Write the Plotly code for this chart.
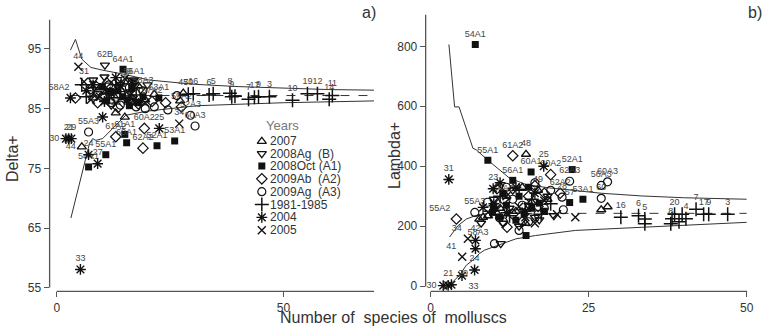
import plotly.graph_objects as go

W, H = 770, 333
FONT = "Liberation Sans Narrow, Arial Narrow, Liberation Sans, Arial, sans-serif"

# ---------------- Delta+ panel (a) ----------------
dA_2007_x = [5.5, 13.0, 15.0, 27.9, 27.2, 9.5, 12.5, 16.5, 18.0, 11.0, 14.0, 19.5, 8.0, 15.5, 21.5]
dA_2007_y = [78.6, 84.3, 83.6, 87.6, 86.3, 88.5, 87.2, 86.0, 88.8, 89.6, 88.2, 86.5, 86.8, 89.5, 87.4]
dA_2007_l = ["44", "26", "", "47", "", "", "", "", "", "", "", "", "", "49", ""]

dA_B_x = [10.6, 8.0, 11.5, 14.0, 16.0, 18.5, 13.0, 9.0, 20.0, 10.5, 17.0, 12.0]
dA_B_y = [92.3, 89.8, 88.0, 89.0, 87.8, 88.2, 86.5, 87.5, 89.0, 90.3, 89.8, 85.6]
dA_B_l = ["62B", "", "", "", "", "", "", "", "", "", "", ""]

dA_A1_x = [14.6, 15.0, 15.4, 22.1, 26.0, 10.8, 7.0, 13.5, 15.5, 17.0, 19.0, 12.0, 22.5, 16.0, 14.5, 11.0, 18.0, 16.5, 10.0]
dA_A1_y = [91.6, 80.7, 79.3, 78.8, 79.6, 77.3, 75.25, 88.0, 86.5, 89.5, 87.0, 87.8, 86.8, 85.5, 87.0, 86.3, 86.0, 88.4, 88.7]
dA_A1_l = ["64A1", "61A1", "60A1", "52A1", "53A1", "55A1", "54A1", "", "", "56A1", "", "", "63A1", "", "", "", "", "", ""]

dA_A2_x = [4.1, 13.0, 19.3, 19.0, 27.5, 9.0, 12.0, 15.5, 18.0, 21.0, 24.0, 13.5, 10.5, 17.0, 7.5]
dA_A2_y = [86.8, 80.3, 81.7, 78.4, 85.3, 86.0, 88.5, 87.0, 85.8, 86.2, 86.0, 85.2, 87.2, 89.0, 88.3]
dA_A2_l = ["58A2", "61A2", "60A2", "62A2", "59A2", "", "", "", "", "57A2", "", "", "", "", ""]

dA_A3_x = [7.0, 29.5, 30.5, 24.5, 19.5, 14.0, 17.5, 10.0, 12.0, 21.5, 16.0, 26.5, 11.5, 8.5, 15.0, 19.0]
dA_A3_y = [81.1, 83.9, 82.1, 84.8, 85.0, 85.6, 85.3, 87.0, 86.0, 85.3, 88.5, 87.2, 89.0, 88.8, 89.8, 88.0]
dA_A3_l = ["55A3", "52A3", "60A3", "", "", "", "", "", "", "", "", "", "", "", "", "58A3"]

dA_8185_x = [30.1, 29.0, 33.6, 34.5, 38.2, 38.6, 39.3, 42.3, 43.6, 44.5, 46.9, 52.0, 55.3, 57.5, 60.1, 60.8, 6.5, 8.0, 11.0, 13.0, 15.0, 5.5, 17.5]
dA_8185_y = [87.5, 87.4, 87.3, 87.5, 87.6, 87.0, 87.1, 86.6, 86.9, 87.0, 87.0, 86.4, 87.5, 87.5, 86.6, 87.2, 87.0, 88.5, 87.5, 89.0, 86.8, 89.0, 87.3]
dA_8185_l = ["16", "50", "6", "5", "8", "9", "", "7", "17", "9", "3", "10", "19", "12", "14", "11", "", "", "", "", "", "", ""]

dA_2004_x = [3.0, 2.0, 2.6, 3.2, 7.0, 9.0, 10.1, 22.6, 5.2, 8.0, 12.0, 14.0, 17.0, 6.5, 10.5, 13.0]
dA_2004_y = [86.8, 80.0, 80.0, 80.0, 77.3, 75.8, 83.6, 81.7, 58.1, 89.0, 87.5, 88.8, 86.5, 88.0, 86.2, 90.2]
dA_2004_l = ["", "30", "21", "29", "24", "27", "", "25", "33", "", "", "", "", "", "", ""]

dA_2005_x = [4.75, 27.0, 6.0, 11.0, 9.5, 13.5, 16.5, 19.5, 7.5, 15.0]
dA_2005_y = [92.0, 82.5, 89.5, 88.0, 87.0, 89.2, 87.5, 86.0, 86.5, 90.0]
dA_2005_l = ["44", "34", "31", "", "", "", "", "", "", ""]

dA_up_x = [3.0, 4.1, 5.5, 7.5, 10.4, 15.2, 20.3, 30, 40, 50, 60, 70]
dA_up_y = [94.8, 96.6, 93.3, 91.9, 91.4, 90.7, 89.8, 89.1, 88.7, 88.4, 88.2, 88.1]
dA_lo_x = [3.1, 6.1, 7.2, 7.9, 8.6, 10.1, 11.5, 14.1, 15.2, 20, 31, 50, 70]
dA_lo_y = [66.7, 75.5, 79.2, 80.0, 79.7, 80.0, 81.1, 83.1, 83.9, 84.6, 85.5, 86.0, 86.3]
dA_mean_x = [3.0, 70]
dA_mean_y = [87.2, 87.2]

# ---------------- Lambda+ panel (b) ----------------
lB_2007_x = [15.1, 27.0, 28.0, 12.0, 14.5, 16.0, 13.5, 17.0, 7.7, 9.1, 8.3, 11.0, 15.0, 18.5]
lB_2007_y = [440, 255, 265, 300, 330, 280, 250, 320, 224, 235, 230, 260, 210, 290]
lB_2007_l = ["48", "", "", "", "", "", "", "49", "", "", "", "", "", ""]

lB_B_x = [11.1, 8.0, 17.2, 14.0, 12.5, 16.5, 10.0, 18.5, 19.5, 13.0, 15.5, 11.5]
lB_B_y = [142, 210, 221, 200, 260, 230, 290, 300, 235, 320, 270, 210]
lB_B_l = ["", "", "", "", "", "", "", "", "", "", "", ""]

lB_A1_x = [7.07, 9.06, 15.9, 22.4, 15.1, 22.0, 24.1, 13.0, 9.8, 10.0, 10.9, 14.8, 17.2, 12.0, 16.0, 14.0, 11.5, 15.5, 18.0, 13.5]
lB_A1_y = [806, 420, 381, 389, 169, 279, 290, 353, 246, 268, 230, 240, 277, 270, 260, 300, 310, 330, 250, 220]
lB_A1_l = ["54A1", "55A1", "60A1", "52A1", "", "57", "53A1", "56A1", "", "", "", "", "", "", "", "", "", "", "", ""]

lB_A2_x = [13.0, 19.0, 4.08, 12.1, 17.0, 14.5, 18.0, 11.5, 20.5, 10.5, 15.5, 13.0, 16.5]
lB_A2_y = [435, 372, 224, 197, 266, 215, 310, 290, 310, 325, 300, 240, 335]
lB_A2_l = ["61A2", "60A2", "55A2", "", "", "", "", "59A2", "62A2", "", "", "", ""]

lB_A3_x = [22.0, 27.0, 28.0, 27.0, 21.0, 10.1, 7.0, 14.0, 10.9, 20.8, 13.0, 11.5, 15.5, 18.0, 16.5, 12.0, 14.5, 19.0, 17.0, 9.0]
lB_A3_y = [350, 336, 348, 293, 255, 142, 246, 186, 228, 297, 290, 215, 215, 260, 345, 330, 270, 320, 240, 280]
lB_A3_l = ["62A3", "56A3", "60A3", "60", "", "58A3", "55A3", "", "", "28", "", "", "", "", "", "", "", "", "", ""]

lB_8185_x = [30.1, 32.9, 33.9, 33.9, 38.0, 38.2, 38.6, 39.3, 39.8, 40.4, 42.0, 43.2, 44.0, 47.0, 9.5, 12.5, 15.0, 17.5, 11.0, 14.0, 16.0, 19.0]
lB_8185_y = [230, 235, 224, 208, 208, 225, 240, 215, 240, 225, 257, 240, 240, 240, 250, 235, 255, 240, 300, 320, 290, 275]
lB_8185_l = ["16", "6", "5", "", "8", "", "20", "", "", "4", "7", "17", "9", "3", "", "", "", "", "", "", "", ""]

lB_2004_x = [2.88, 17.9, 7.1, 7.1, 6.96, 4.97, 2.0, 2.78, 3.3, 9.9, 8.3, 10.0, 13.5, 15.0, 12.0, 16.5, 11.0]
lB_2004_y = [356, 400, 153, 125, 54, 35, 2, 3, 5, 325, 263, 275, 330, 250, 245, 310, 345]
lB_2004_l = ["31", "25", "42", "", "24", "33", "30", "21", "29", "23", "", "", "", "", "", "", ""]

lB_2005_x = [5.9, 5.0, 20.0, 22.9, 16.5, 12.0, 14.0, 18.0, 10.5, 15.0]
lB_2005_y = [158, 98, 240, 230, 210, 300, 265, 285, 255, 230]
lB_2005_l = ["34", "41", "", "", "", "", "", "", "", ""]

lB_up_x = [2.9, 3.8, 4.5, 6.7, 7.2, 9.3, 12.45, 15.1, 18.7, 22.9, 27, 33.4, 40, 50]
lB_up_y = [806, 598, 598, 460, 455, 416, 361, 339, 328, 318, 310, 301, 295, 290]
lB_lo_x = [2.25, 3.3, 4.6, 5.65, 6.7, 7.74, 8.5, 9.8, 11.4, 13.5, 16.6, 22.9, 33.4, 50]
lB_lo_y = [0, 10, 37, 70, 87, 109, 120, 131, 142, 158, 169, 186, 197, 213]
lB_br_x = [3.0, 4.35, 5.65, 7.2, 9.0]
lB_br_y = [164, 202, 224, 236, 243]
lB_mean_x = [9.0, 50]
lB_mean_y = [243, 243]

legend_names = ["2007", "2008Ag  (B)", "2008Oct (A1)", "2009Ab  (A2)", "2009Ag  (A3)", "1981-1985", "2004", "2005"]

# ---------------- styles ----------------
INK = "#111"
STY = [
    dict(symbol="triangle-up-open", size=8, color=INK, line=dict(width=1.3, color=INK)),
    dict(symbol="triangle-down-open", size=8, color=INK, line=dict(width=1.3, color=INK)),
    dict(symbol="square", size=7, color=INK, line=dict(width=0)),
    dict(symbol="diamond-open", size=8, color=INK, line=dict(width=1.2, color=INK)),
    dict(symbol="circle-open", size=8, color=INK, line=dict(width=1.2, color=INK)),
    dict(symbol="cross-thin-open", size=10, color=INK, line=dict(width=1.5, color=INK)),
    dict(symbol="asterisk-open", size=9, color=INK, line=dict(width=1.4, color=INK)),
    dict(symbol="x-thin-open", size=8, color=INK, line=dict(width=1.4, color=INK)),
]

LEFT_POS_A = {"30": "middle left", "58A2": "top left"}
LEFT_POS_B = {"30": "middle left", "55A2": "top left", "34": "top left", "41": "top left",
              "33": "bottom right", "58A3": "top left", "21": "top center", "29": "top right"}
LABEL_FONT = dict(size=9, color="#444", family="Liberation Sans, Arial, sans-serif")

fig = go.Figure()

def add_curve(x, y, xa, ya, dash="solid"):
    fig.add_trace(go.Scatter(x=x, y=y, mode="lines", xaxis=xa, yaxis=ya,
                             line=dict(color="#333", width=1, dash=dash),
                             showlegend=False, hoverinfo="skip"))

add_curve(dA_up_x, dA_up_y, "x", "y")
add_curve(dA_lo_x, dA_lo_y, "x", "y")
add_curve(dA_mean_x, dA_mean_y, "x", "y", "dash")
add_curve(lB_up_x, lB_up_y, "x2", "y2")
add_curve(lB_lo_x, lB_lo_y, "x2", "y2")
add_curve(lB_br_x, lB_br_y, "x2", "y2")
add_curve(lB_mean_x, lB_mean_y, "x2", "y2", "dash")

A = [(dA_2007_x, dA_2007_y, dA_2007_l), (dA_B_x, dA_B_y, dA_B_l), (dA_A1_x, dA_A1_y, dA_A1_l),
     (dA_A2_x, dA_A2_y, dA_A2_l), (dA_A3_x, dA_A3_y, dA_A3_l), (dA_8185_x, dA_8185_y, dA_8185_l),
     (dA_2004_x, dA_2004_y, dA_2004_l), (dA_2005_x, dA_2005_y, dA_2005_l)]
B = [(lB_2007_x, lB_2007_y, lB_2007_l), (lB_B_x, lB_B_y, lB_B_l), (lB_A1_x, lB_A1_y, lB_A1_l),
     (lB_A2_x, lB_A2_y, lB_A2_l), (lB_A3_x, lB_A3_y, lB_A3_l), (lB_8185_x, lB_8185_y, lB_8185_l),
     (lB_2004_x, lB_2004_y, lB_2004_l), (lB_2005_x, lB_2005_y, lB_2005_l)]

for i, (x, y, l) in enumerate(A):
    pos = []
    for lab in l:
        if i == 0 and lab == "44":
            pos.append("middle left")
        else:
            pos.append(LEFT_POS_A.get(lab, "top center"))
    fig.add_trace(go.Scatter(x=x, y=y, text=l, mode="markers+text", xaxis="x", yaxis="y",
                             marker=STY[i], textposition=pos, cliponaxis=False,
                             textfont=LABEL_FONT, showlegend=False))
for i, (x, y, l) in enumerate(B):
    pos = [LEFT_POS_B.get(lab, "top center") for lab in l]
    fig.add_trace(go.Scatter(x=x, y=y, text=l, mode="markers+text", xaxis="x2", yaxis="y2",
                             marker=STY[i], textposition=pos, cliponaxis=False,
                             textfont=LABEL_FONT, showlegend=False))

# ---------------- manual legend (inside panel a) ----------------
px2x = lambda px: (px - 57.3) / 4.57
py2y = lambda py: 85 - (py - 110) / 6.05
rows_py = [143, 155.5, 168, 181, 194, 207, 220, 233]
for i, name in enumerate(legend_names):
    fig.add_trace(go.Scatter(x=[px2x(264)], y=[py2y(rows_py[i])], mode="markers",
                             xaxis="x", yaxis="y", marker=STY[i], showlegend=False, hoverinfo="skip"))
    fig.add_annotation(x=270 / W, y=1 - rows_py[i] / H, xref="paper", yref="paper",
                       text=name, showarrow=False, xanchor="left", yanchor="middle",
                       font=dict(size=12, color="#333", family=FONT))
fig.add_annotation(x=285 / W, y=1 - 127 / H, xref="paper", yref="paper", text="Years",
                   showarrow=False, xanchor="center", yanchor="middle",
                   font=dict(size=13, color="#777", family=FONT))

# ---------------- titles ----------------
ann = [
    dict(x=12 / W, y=1 - 160 / H, text="Delta+", textangle=-90, size=16),
    dict(x=397 / W, y=1 - 157 / H, text="Lambda+", textangle=-90, size=16),
    dict(x=397 / W, y=1 - 321 / H, text="Number of\u00a0 species of\u00a0 molluscs", textangle=0, size=16),
    dict(x=372 / W, y=1 - 13 / H, text="a)", textangle=0, size=16),
    dict(x=761 / W, y=1 - 13 / H, text="b)", textangle=0, size=16),
]
for a in ann:
    fig.add_annotation(x=a["x"], y=a["y"], xref="paper", yref="paper", text=a["text"],
                       textangle=a["textangle"], showarrow=False, xanchor="center", yanchor="middle",
                       font=dict(size=a["size"], color="#333", family=FONT))

# axis lines as paper shapes
def pline(x0, y0, x1, y1):
    fig.add_shape(type="line", xref="paper", yref="paper", x0=x0 / W, x1=x1 / W,
                  y0=1 - y0 / H, y1=1 - y1 / H, line=dict(color="#555", width=1.3))

pline(50, 20, 50, 291)
pline(57, 295, 377, 295)
pline(429, 15, 429, 290)
pline(434, 295, 753, 295)

axcommon = dict(showgrid=False, zeroline=False, showline=False, ticks="outside", ticklen=5,
                tickwidth=1.2, tickcolor="#555",
                tickfont=dict(size=12, color="#333", family=FONT))

fig.update_layout(
    width=W, height=H, margin=dict(l=0, r=0, t=0, b=0),
    paper_bgcolor="white", plot_bgcolor="white", showlegend=False,
    xaxis=dict(domain=[50 / W, 377 / W], range=[-1.6, 70.0], anchor="y",
               tickvals=[0, 50], **axcommon),
    yaxis=dict(domain=[1 - 295 / H, 1 - 20 / H], range=[54.42, 99.88], anchor="x",
               tickvals=[55, 65, 75, 85, 95], **axcommon),
    xaxis2=dict(domain=[429 / W, 753 / W], range=[-0.78, 50.08], anchor="y2",
                tickvals=[0, 25, 50], **axcommon),
    yaxis2=dict(domain=[1 - 295 / H, 1 - 15 / H], range=[-17.5, 905], anchor="x2",
                tickvals=[0, 200, 400, 600, 800], **axcommon),
)

fig.write_html("out.html", config={"displayModeBar": False},
               post_script="document.body.style.margin='0';document.body.style.overflow='hidden';")
